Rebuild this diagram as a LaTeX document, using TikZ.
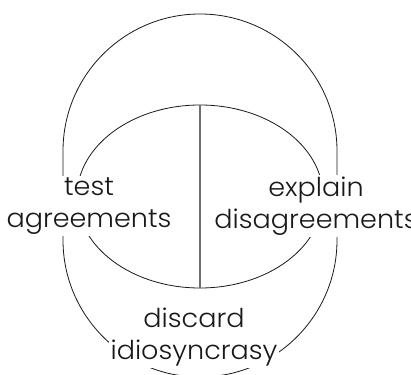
\documentclass[tikz,border=0pt]{standalone}
\usepackage{fontspec}
\setmainfont{Poppins}[UprightFont=* Light, FakeStretch=1.04]
\usepackage{tikz}
\usetikzlibrary{positioning}
\definecolor{myink}{RGB}{25,25,25}
\definecolor{mydivider}{RGB}{110,110,110}
\tikzset{
  outline/.style={line width=0.8pt, color=myink},
  divider/.style={line width=1.2pt, color=mydivider},
  phrase/.style={fill=white, inner sep=2pt, align=center,
    font=\fontsize{26}{32}\selectfont, text=myink}
}
\begin{document}
\begin{tikzpicture}[x=1pt, y=1pt]
  \useasboundingbox (0,0) rectangle (411,374);
  \clip (0,0) rectangle (411,374);

  % Outer loop
  \draw[outline] (63,134) -- (63,223) arc[start angle=180, end angle=0, radius=137]
    -- (337,134) arc[start angle=0, end angle=-180, radius=137] -- cycle;

  % Inner ellipse, split in two
  \draw[outline] (200,177.5) ellipse[x radius=123, y radius=91.5];
  \coordinate (ctop) at (200,269);
  \coordinate (cbot) at (200,86);
  \draw[divider] (ctop) -- (cbot);

  % Labels
  \node[phrase] (test) at (89,168) {test\\agreements};
  \node[phrase] (explain) at (316,168) {explain\\disagreements};
  \node[phrase] (discard) at (194,37) {discard\\idiosyncrasy};
\end{tikzpicture}
\end{document}
